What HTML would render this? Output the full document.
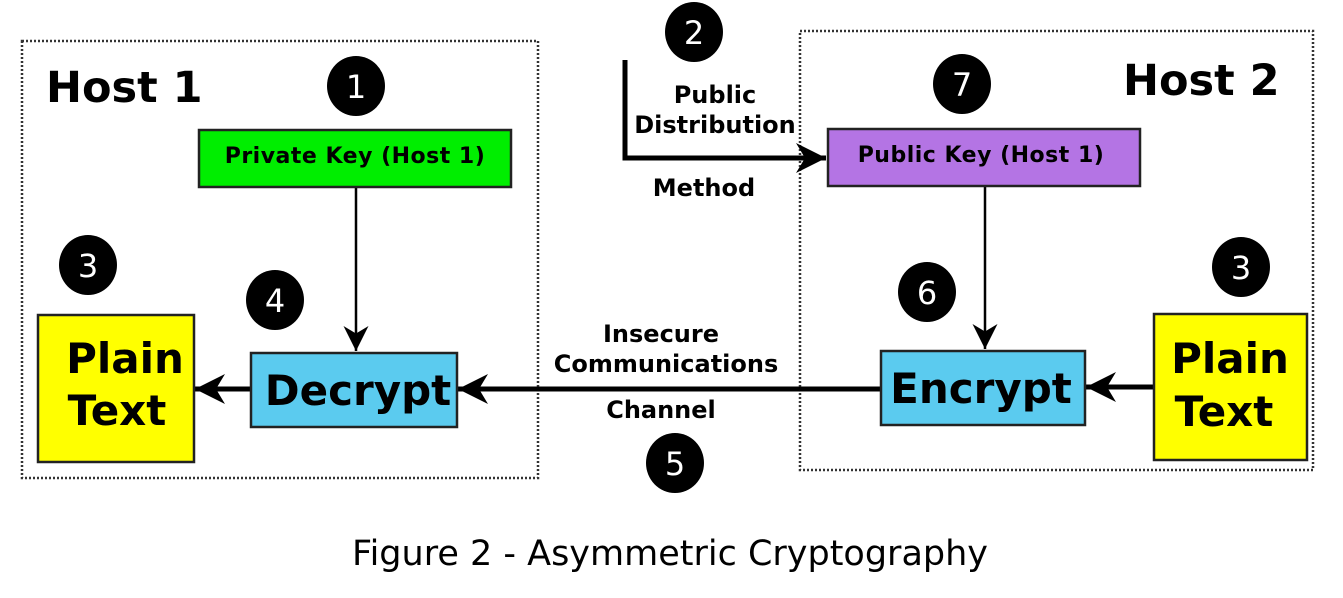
<!DOCTYPE html>
<html><head><style>
body{margin:0;background:#fff;width:1343px;height:593px;overflow:hidden}
svg text{font-family:"DejaVu Sans",sans-serif;font-weight:bold}
svg text.n{font-weight:normal}
</style></head><body>
<svg width="1343" height="593" xmlns="http://www.w3.org/2000/svg">
<defs>
<marker id="ah" viewBox="0 0 10 10" refX="10" refY="5" markerWidth="6" markerHeight="6" orient="auto" markerUnits="strokeWidth"><path d="M0,0 L10,5 L0,10 L3,5 Z" fill="#000"/></marker>
<marker id="ah2" viewBox="0 0 10 10" refX="10" refY="5" markerWidth="10" markerHeight="10" orient="auto" markerUnits="strokeWidth"><path d="M0,0 L10,5 L0,10 L3,5 Z" fill="#000"/></marker>
</defs>
<rect x="22" y="41" width="516" height="437" fill="none" stroke="#333" stroke-width="2.5" stroke-dasharray="2,2"/>
<rect x="800" y="31" width="513" height="439" fill="none" stroke="#333" stroke-width="2.5" stroke-dasharray="2,2"/>
<text x="46" y="102" font-size="43">Host 1</text>
<text x="1123" y="95" font-size="43">Host 2</text>
<line x1="356" y1="187" x2="356" y2="351" stroke="#000" stroke-width="2.5" marker-end="url(#ah2)"/>
<line x1="985" y1="187" x2="985" y2="349" stroke="#000" stroke-width="2.5" marker-end="url(#ah2)"/>
<polyline points="625,60 625,158 826,158" fill="none" stroke="#000" stroke-width="5" marker-end="url(#ah)"/>
<line x1="880" y1="389" x2="458" y2="389" stroke="#000" stroke-width="5" marker-end="url(#ah)"/>
<line x1="250" y1="389" x2="195" y2="389" stroke="#000" stroke-width="5" marker-end="url(#ah)"/>
<line x1="1153" y1="387" x2="1086" y2="387" stroke="#000" stroke-width="5" marker-end="url(#ah)"/>
<rect x="199" y="130" width="312" height="57" fill="#00ee00" stroke="#222" stroke-width="2.5"/>
<text x="355" y="163" font-size="22" text-anchor="middle" letter-spacing="0.5">Private Key (Host 1)</text>
<rect x="828" y="129" width="312" height="57" fill="#b474e4" stroke="#222" stroke-width="2.5"/>
<text x="981" y="162" font-size="22" text-anchor="middle" letter-spacing="0.5">Public Key (Host 1)</text>
<rect x="38" y="315" width="156" height="147" fill="#ffff00" stroke="#222" stroke-width="2.5"/>
<text x="125" y="373" font-size="42" text-anchor="middle">Plain</text>
<text x="117" y="425" font-size="42" text-anchor="middle">Text</text>
<rect x="1154" y="314" width="153" height="146" fill="#ffff00" stroke="#222" stroke-width="2.5"/>
<text x="1230" y="373" font-size="42" text-anchor="middle">Plain</text>
<text x="1224" y="426" font-size="42" text-anchor="middle">Text</text>
<rect x="251" y="353" width="206" height="74" fill="#5bcbef" stroke="#222" stroke-width="2.5"/>
<text x="358" y="405" font-size="42" text-anchor="middle">Decrypt</text>
<rect x="881" y="351" width="204" height="74" fill="#5bcbef" stroke="#222" stroke-width="2.5"/>
<text x="981" y="403" font-size="42" text-anchor="middle">Encrypt</text>
<text x="715" y="103" font-size="24" text-anchor="middle">Public</text>
<text x="715" y="133" font-size="24" text-anchor="middle">Distribution</text>
<text x="704" y="196" font-size="24" text-anchor="middle">Method</text>
<text x="661" y="342" font-size="24" text-anchor="middle">Insecure</text>
<text x="666" y="372" font-size="24" text-anchor="middle">Communications</text>
<text x="661" y="418" font-size="24" text-anchor="middle">Channel</text>
<g text-anchor="middle">
<ellipse cx="356" cy="86" rx="29" ry="30" fill="#000"/><text class="n" x="356" y="98" fill="#fff" font-size="32">1</text>
<ellipse cx="694" cy="32" rx="29" ry="30" fill="#000"/><text class="n" x="694" y="44" fill="#fff" font-size="32">2</text>
<ellipse cx="962" cy="84" rx="29" ry="30" fill="#000"/><text class="n" x="962" y="96" fill="#fff" font-size="32">7</text>
<ellipse cx="88" cy="265" rx="29" ry="30" fill="#000"/><text class="n" x="88" y="277" fill="#fff" font-size="32">3</text>
<ellipse cx="275" cy="300" rx="29" ry="30" fill="#000"/><text class="n" x="275" y="312" fill="#fff" font-size="32">4</text>
<ellipse cx="927" cy="292" rx="29" ry="30" fill="#000"/><text class="n" x="927" y="304" fill="#fff" font-size="32">6</text>
<ellipse cx="1241" cy="267" rx="29" ry="30" fill="#000"/><text class="n" x="1241" y="279" fill="#fff" font-size="32">3</text>
<ellipse cx="675" cy="463" rx="29" ry="30" fill="#000"/><text class="n" x="675" y="475" fill="#fff" font-size="32">5</text>
</g>
<text class="n" x="670" y="565" font-size="35" text-anchor="middle">Figure 2 - Asymmetric Cryptography</text>
</svg>
</body></html>
